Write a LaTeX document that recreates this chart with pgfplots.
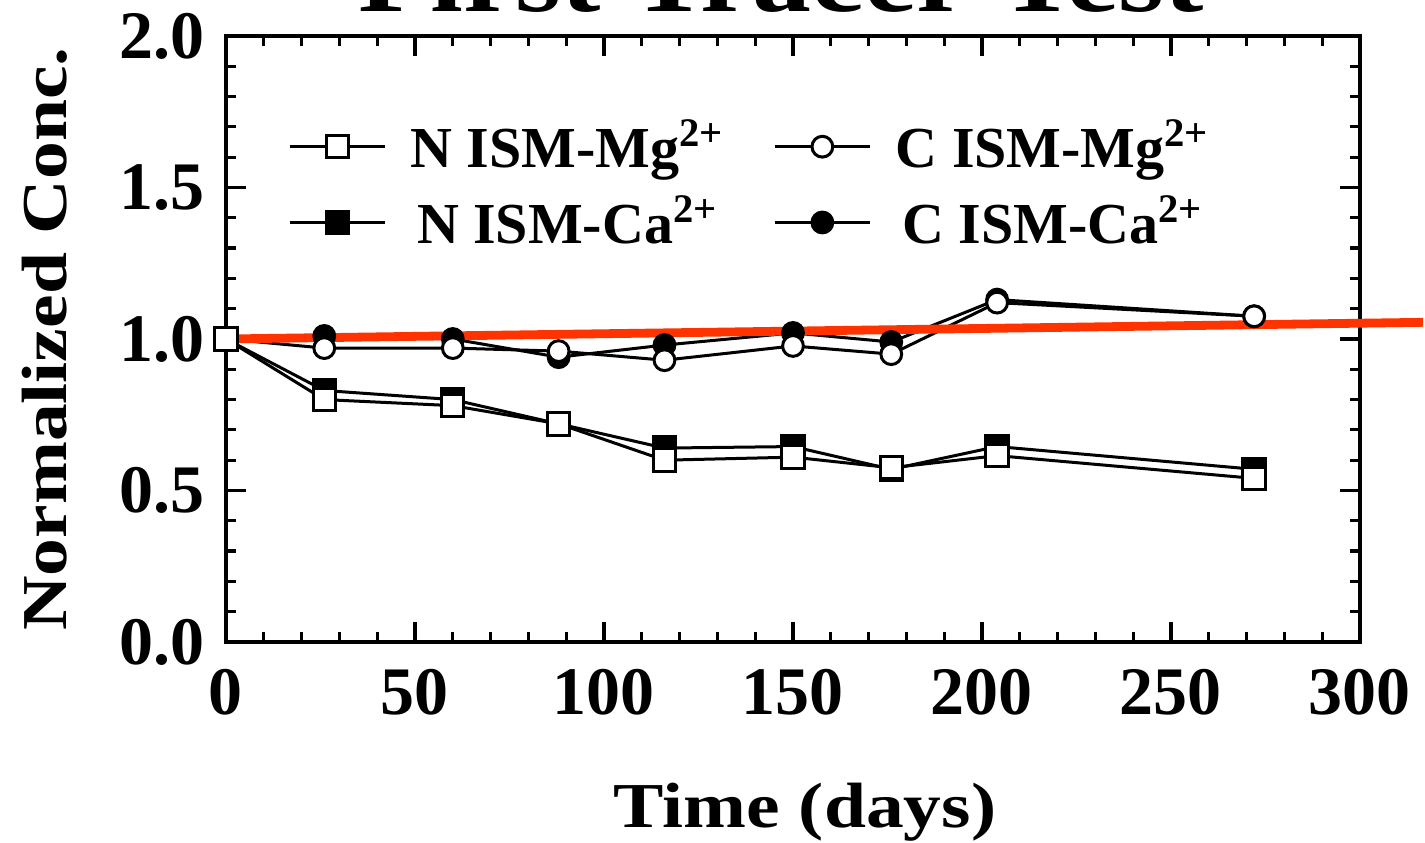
\documentclass[border=0pt]{standalone}
\usepackage{fontspec}
\setmainfont{Liberation Serif}
\newfontfamily\widefont[FakeStretch=1.18]{Liberation Serif}
\usepackage{pgfplots}
\pgfplotsset{compat=1.18}
\definecolor{fitred}{RGB}{255,51,0}
\begin{document}
\begin{tikzpicture}
\begin{axis}[
  scale only axis,
  width=283.5pt, height=151.5pt,
  xmin=0, xmax=300, ymin=0, ymax=2,
  xtick={0,50,100,150,200,250,300},
  ytick={0,0.5,1,1.5,2},
  minor x tick num=4, minor y tick num=4,
  tick align=inside,
  major tick length=5pt, minor tick length=2.5pt,
  tick style={black, line width=0.8pt},
  axis line style={line width=1pt},
  clip=false,
  /pgf/number format/assume math mode=true,
  yticklabel style={/pgf/number format/fixed, /pgf/number format/fixed zerofill,
                    /pgf/number format/precision=1},
  xticklabel style={font=\fontsize{17}{17}\selectfont\bfseries, anchor=north, inner sep=0pt, yshift=-6.5pt},
  yticklabel style={font=\fontsize{17}{17}\selectfont\bfseries, anchor=east, inner sep=0pt, xshift=-5.25pt},
  xlabel={Time (days)},
  xlabel style={at={(axis description cs:0.5,0)}, anchor=north, inner sep=0pt,
                yshift=-35pt, xshift=3pt, font=\fontsize{16}{16}\selectfont\widefont\bfseries},
  ylabel={Normalized Conc.},
  ylabel style={at={(axis description cs:-0.1596,0.5)}, anchor=center, inner sep=0pt,
                font=\fontsize{16}{16}\selectfont\widefont\bfseries},
  legend columns=2,
  legend style={draw=none, fill=none, inner sep=0pt,
                at={(axis description cs:0.054,0.863)}, anchor=north west,
                font=\fontsize{14.5}{14.5}\selectfont\bfseries,
                nodes={inner sep=0pt}, row sep=5.5pt,
                /tikz/every odd column/.append style={column sep=6pt},
                /tikz/every even column/.append style={column sep=12pt}},
  legend image code/.code={\draw[mark repeat=2,mark phase=2]
      plot coordinates {(0cm,0cm) (0.42cm,0cm) (0.84cm,0cm)};},
]
\addlegendimage{black, line width=0.75pt, mark=square*, mark size=2.8pt, mark options={fill=white}}
\addlegendentry{N ISM-Mg\textsuperscript{2+}}
\addlegendimage{black, line width=0.75pt, mark=*, mark size=2.6pt, mark options={fill=white}}
\addlegendentry{C ISM-Mg\textsuperscript{2+}}
\addlegendimage{black, line width=0.75pt, mark=square*, mark size=2.8pt, mark options={fill=black}}
\addlegendentry{N ISM-Ca\textsuperscript{2+}}
\addlegendimage{black, line width=0.75pt, mark=*, mark size=2.6pt, mark options={fill=black}}
\addlegendentry{C ISM-Ca\textsuperscript{2+}}

% C ISM-Ca2+
\addplot[black, line width=0.75pt, mark=*, mark size=2.6pt, mark options={fill=black}, forget plot]
  coordinates {(0,1.0) (26,1.01) (60,1.0) (88,0.94) (116,0.98) (150,1.02) (176,0.99) (204,1.13) (272,1.075)};
% N ISM-Ca2+
\addplot[black, line width=0.75pt, mark=square*, mark size=2.8pt, mark options={fill=black}, forget plot]
  coordinates {(0,1.0) (26,0.83) (60,0.80) (88,0.72) (116,0.64) (150,0.645) (176,0.57) (204,0.645) (272,0.57)};
% C ISM-Mg2+
\addplot[black, line width=0.75pt, mark=*, mark size=2.6pt, mark options={fill=white}, forget plot]
  coordinates {(0,1.0) (26,0.97) (60,0.97) (88,0.96) (116,0.93) (150,0.977) (176,0.95) (204,1.12) (272,1.075)};
% N ISM-Mg2+
\addplot[black, line width=0.75pt, mark=square*, mark size=2.8pt, mark options={fill=white}, forget plot]
  coordinates {(0,1.0) (26,0.80) (60,0.78) (88,0.72) (116,0.60) (150,0.61) (176,0.575) (204,0.615) (272,0.54)};
% red reference line
\addplot[fitred, line width=2.2pt, no markers, forget plot]
  coordinates {(0,1.0) (316.7,1.055)};

\coordinate (BL) at (rel axis cs:0,0);
\coordinate (TR) at (rel axis cs:1,1);
\coordinate (TT) at (rel axis cs:0.5,1);
\end{axis}
\node[anchor=base, inner sep=0pt, font=\fontsize{25}{25}\selectfont\widefont\bfseries]
  at ([xshift=-3pt,yshift=6pt]TT) {First Tracer Test};
\pgfresetboundingbox
\path[use as bounding box] ([xshift=-56.5pt,yshift=-50.25pt]BL) rectangle ([xshift=16.25pt,yshift=9pt]TR);
\end{tikzpicture}
\end{document}
